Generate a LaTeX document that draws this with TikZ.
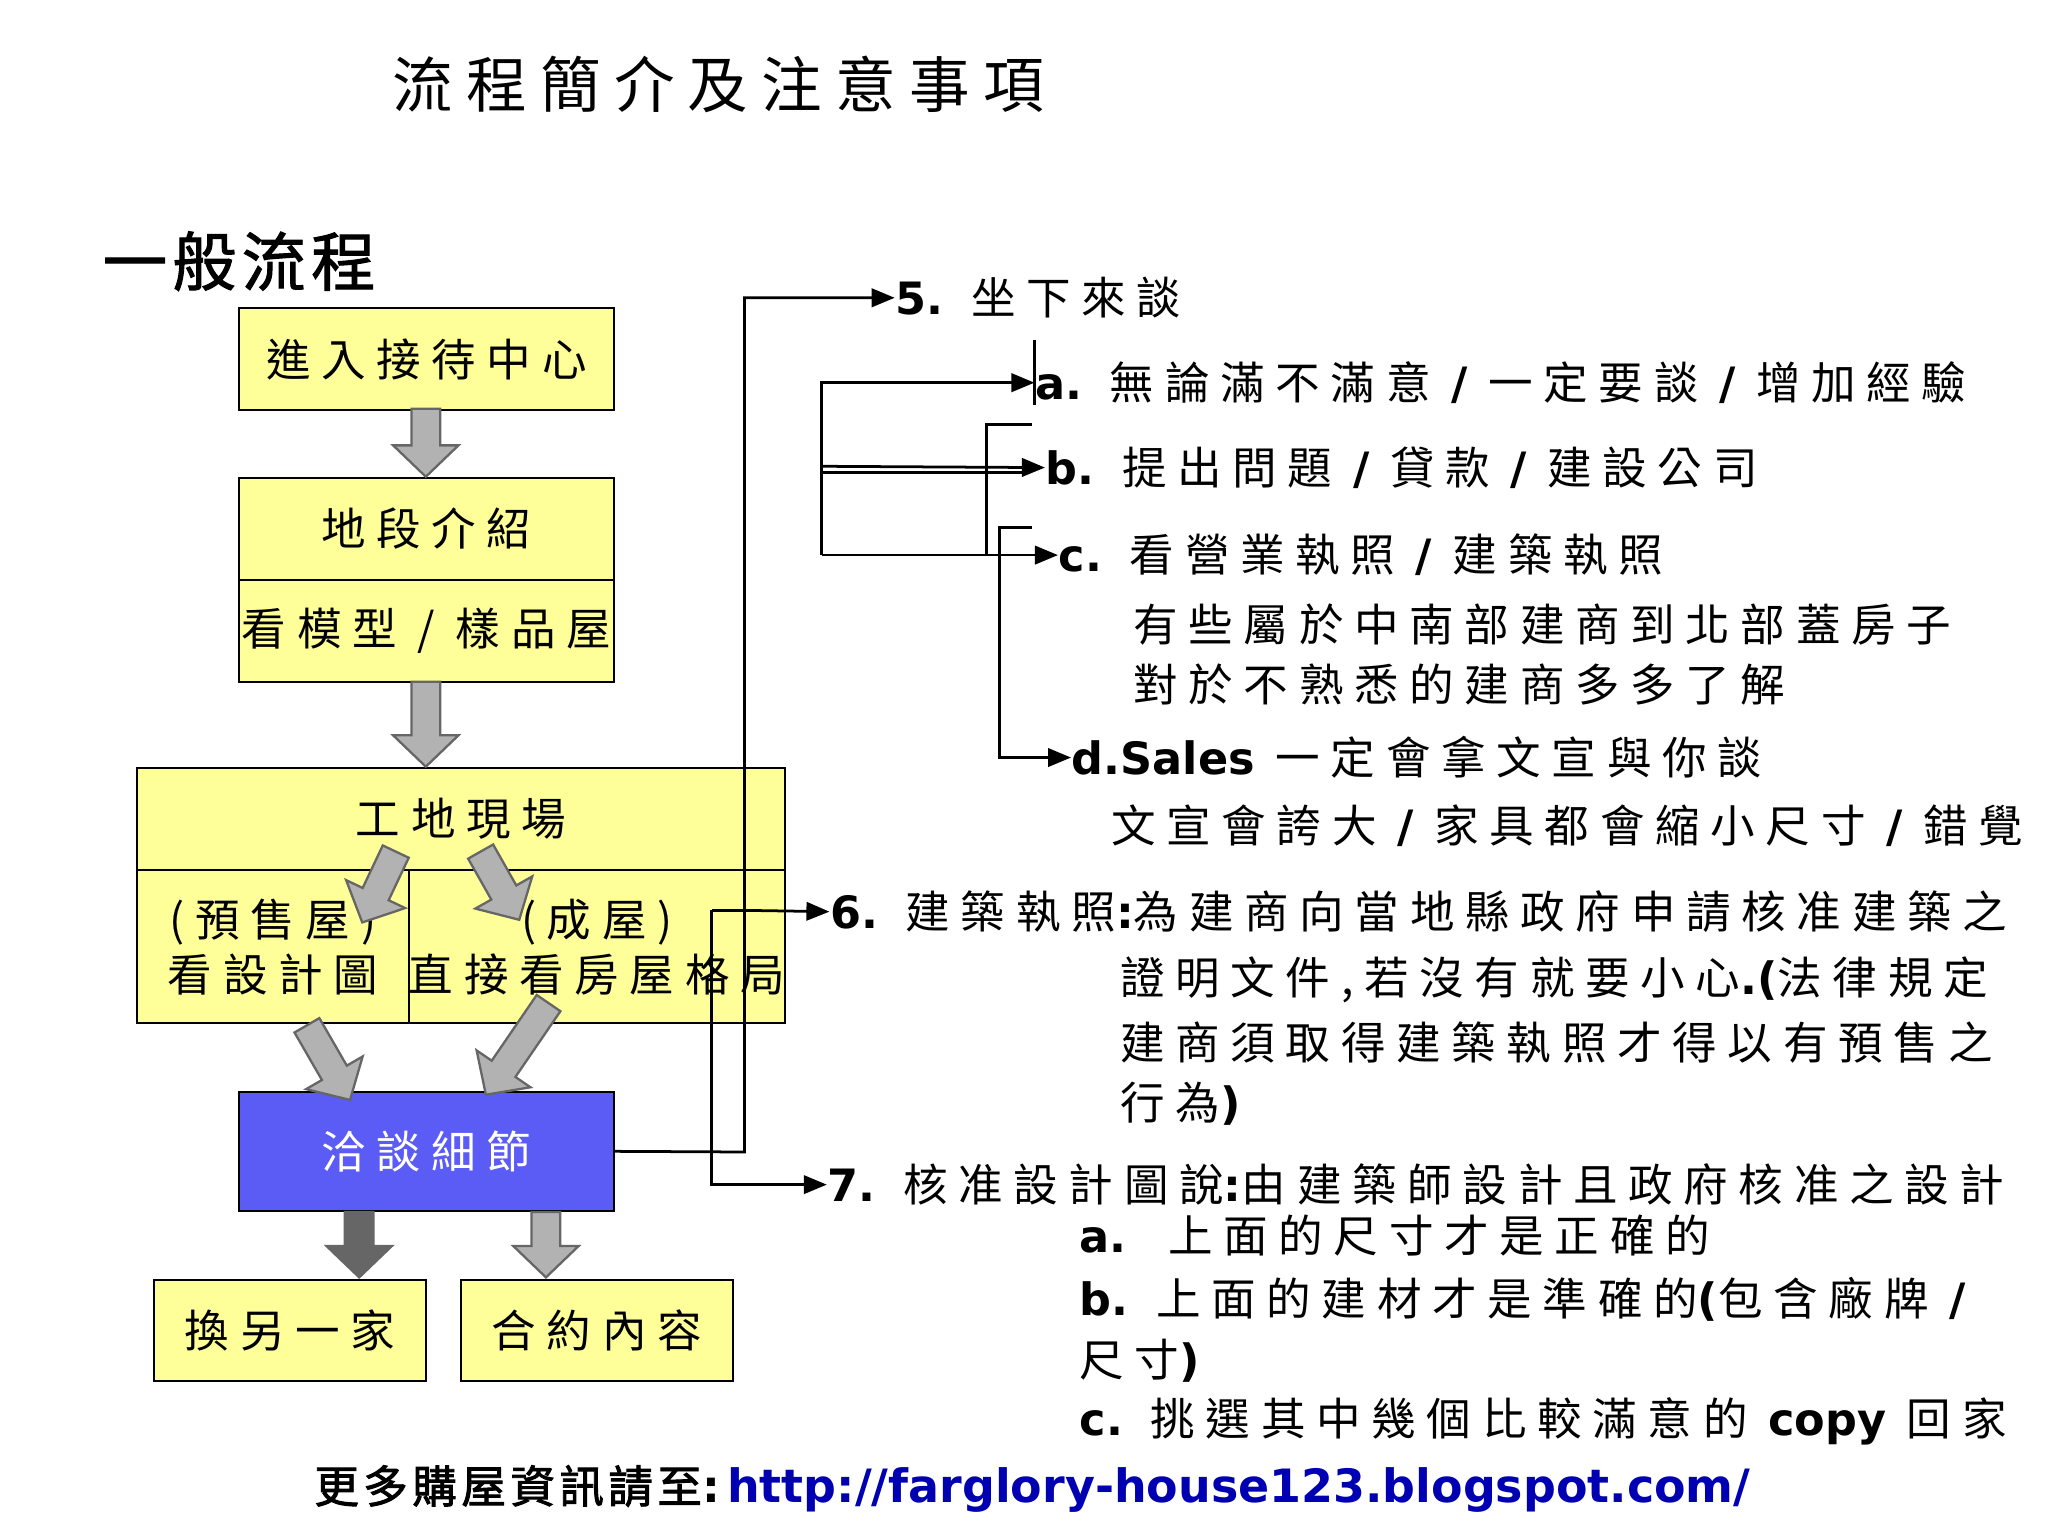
\documentclass[tikz,border=0pt]{standalone}
\usepackage{fontspec}
\usetikzlibrary{arrows.meta}
\setmainfont{Noto Sans CJK TC}[LetterSpace=24]
\newfontfamily\lat{DejaVu Sans Bold}
\newfontfamily\cjkb{Noto Sans CJK TC}[LetterSpace=10,FakeBold=2]
\newfontfamily\ttl{Noto Sans CJK TC}[LetterSpace=22]
\newfontfamily\hd{Noto Sans CJK TC}[LetterSpace=8,FakeBold=1.5]
\newcommand\barrow[5]{\begin{scope}[shift={(#1,#2)},rotate=#3]
 \draw[draw=black!60,fill=#5,line width=0.5pt] (0,-11) -- (#4-24,-11) -- (#4-24,-25) -- (#4,0) -- (#4-24,25) -- (#4-24,11) -- (0,11) -- cycle;
 \end{scope}}
\begin{document}
\begin{tikzpicture}[x=0.01cm,y=-0.01cm,
 ybox/.style={draw,fill=ybg,minimum width=2.87cm,minimum height=0.78cm,inner sep=0,font=\fontsize{9.7}{12}\selectfont},
 tx/.style={anchor=west,inner sep=0,font=\fontsize{9.7}{12}\selectfont},
 ln/.style={line width=0.6pt},
 ar/.style={ln,-{Triangle[length=5pt,width=4pt]}}]
\definecolor{ybg}{HTML}{FFFF99}
\definecolor{bl}{HTML}{5B5BF5}
\path[use as bounding box] (0,0) rectangle (1568,1176);
\clip (0,0) rectangle (1568,1176);
\node[inner sep=0,font=\ttl\fontsize{13.2}{15}\selectfont] (title) at (550,65) {流程簡介及注意事項};
\node[inner sep=0,anchor=west,font=\hd\fontsize{14}{15}\selectfont] (hdr) at (78,200) {一般流程};
% boxes
\node[ybox] (b1) at (326.5,275) {進入接待中心};
\node[ybox] (b2) at (326.5,405) {地段介紹};
\node[ybox] (b3) at (326.5,483) {看模型 / 樣品屋};
\node[ybox,minimum width=4.96cm] (b4) at (353,627) {工地現場};
\node[ybox,minimum width=2.08cm,minimum height=1.17cm,align=center] (b5) at (209,725) {(預售屋)\\看設計圖};
\node[ybox,minimum width=2.88cm,minimum height=1.17cm,align=center] (b6) at (457,725) {(成屋)\\直接看房屋格局};
\node[ybox,fill=bl,text=white,minimum height=0.91cm] (b7) at (326.5,881.5) {洽談細節};
\node[ybox,minimum width=2.08cm,minimum height=0.77cm] (b8) at (222,1018.5) {換另一家};
\node[ybox,minimum width=2.08cm,minimum height=0.77cm] (b9) at (457,1018.5) {合約內容};
% block arrows
\barrow{326}{313}{-90}{52}{black!30}
\barrow{326}{522}{-90}{65}{black!30}
\barrow{303}{652}{244.7}{60}{black!30}
\barrow{368}{652}{-60.5}{60}{black!30}
\barrow{235}{785}{-60}{66}{black!30}
\barrow{420}{768}{235.6}{85}{black!30}
\barrow{275}{928}{-90}{50}{black!60}
\barrow{418}{928}{-90}{50}{black!30}
% texts
\node[tx] (t5) at (685,228) {{\lat 5.} 坐下來談};
\node[tx] (ta) at (792,293) {{\lat a.} 無論滿不滿意 {\lat /} 一定要談 {\lat /} 增加經驗};
\node[tx] (tb) at (800,358) {{\lat b.} 提出問題 {\lat /} 貸款 {\lat /} 建設公司};
\node[tx] (tc) at (810,425) {{\lat c.} 看營業執照 {\lat /} 建築執照};
\node[tx] at (867,478) {有些屬於中南部建商到北部蓋房子};
\node[tx] at (867,524) {對於不熟悉的建商多多了解};
\node[tx] (td) at (820,580) {{\lat d.Sales} 一定會拿文宣與你談};
\node[tx] at (850,632) {文宣會誇大 {\lat /} 家具都會縮小尺寸 {\lat /} 錯覺};
\node[tx] (t6) at (635,698) {{\lat 6.} 建築執照{\lat :}為建商向當地縣政府申請核准建築之};
\node[tx] at (857,750) {證明文件,若沒有就要小心{\lat .(}法律規定};
\node[tx] at (857,798) {建商須取得建築執照才得以有預售之};
\node[tx] at (857,845) {行為{\lat )}};
\node[tx] (t7) at (633,907) {{\lat 7.} 核准設計圖說{\lat :}由建築師設計且政府核准之設計};
\node[tx] at (826,946) {{\lat a.}\ \ 上面的尺寸才是正確的};
\node[tx] at (826,995) {{\lat b.} 上面的建材才是準確的{\lat (}包含廠牌 {\lat /}};
\node[tx] at (826,1042) {尺寸{\lat )}};
\node[tx] at (826,1088) {{\lat c.} 挑選其中幾個比較滿意的 {\lat copy} 回家};
\node[tx] (ft) at (240,1140) {{\cjkb 更多購屋資訊請至}{\lat :}\,{\lat\color{blue!70!black}\fontsize{10}{12}\selectfont\addfontfeature{LetterSpace=0}http://farglory-house123.blogspot.com/}};
% connectors
\draw[ar] (b7.east) -- (570,882) -- (570,228) -- (t5.west);
\draw[ar] (570,697) -- (t6.west);
\draw[ar] (545,697) -- (570,697) (545,697) -- (545,907) -- (t7.west);
\draw[ln] (792,260) -- (792,310);
\draw[ar] (629,425) -- (629,293) -- (ta.west);
\draw[ar] (629,357) -- (tb.west);
\draw[ln] (629,362) -- (785,362);
\draw[ar] (629,425) -- (tc.west);
\draw[ln] (790,325) -- (755,325) -- (755,425);
\draw[ar] (790,404) -- (765,404) -- (765,580) -- (td.west);
\end{tikzpicture}
\end{document}
